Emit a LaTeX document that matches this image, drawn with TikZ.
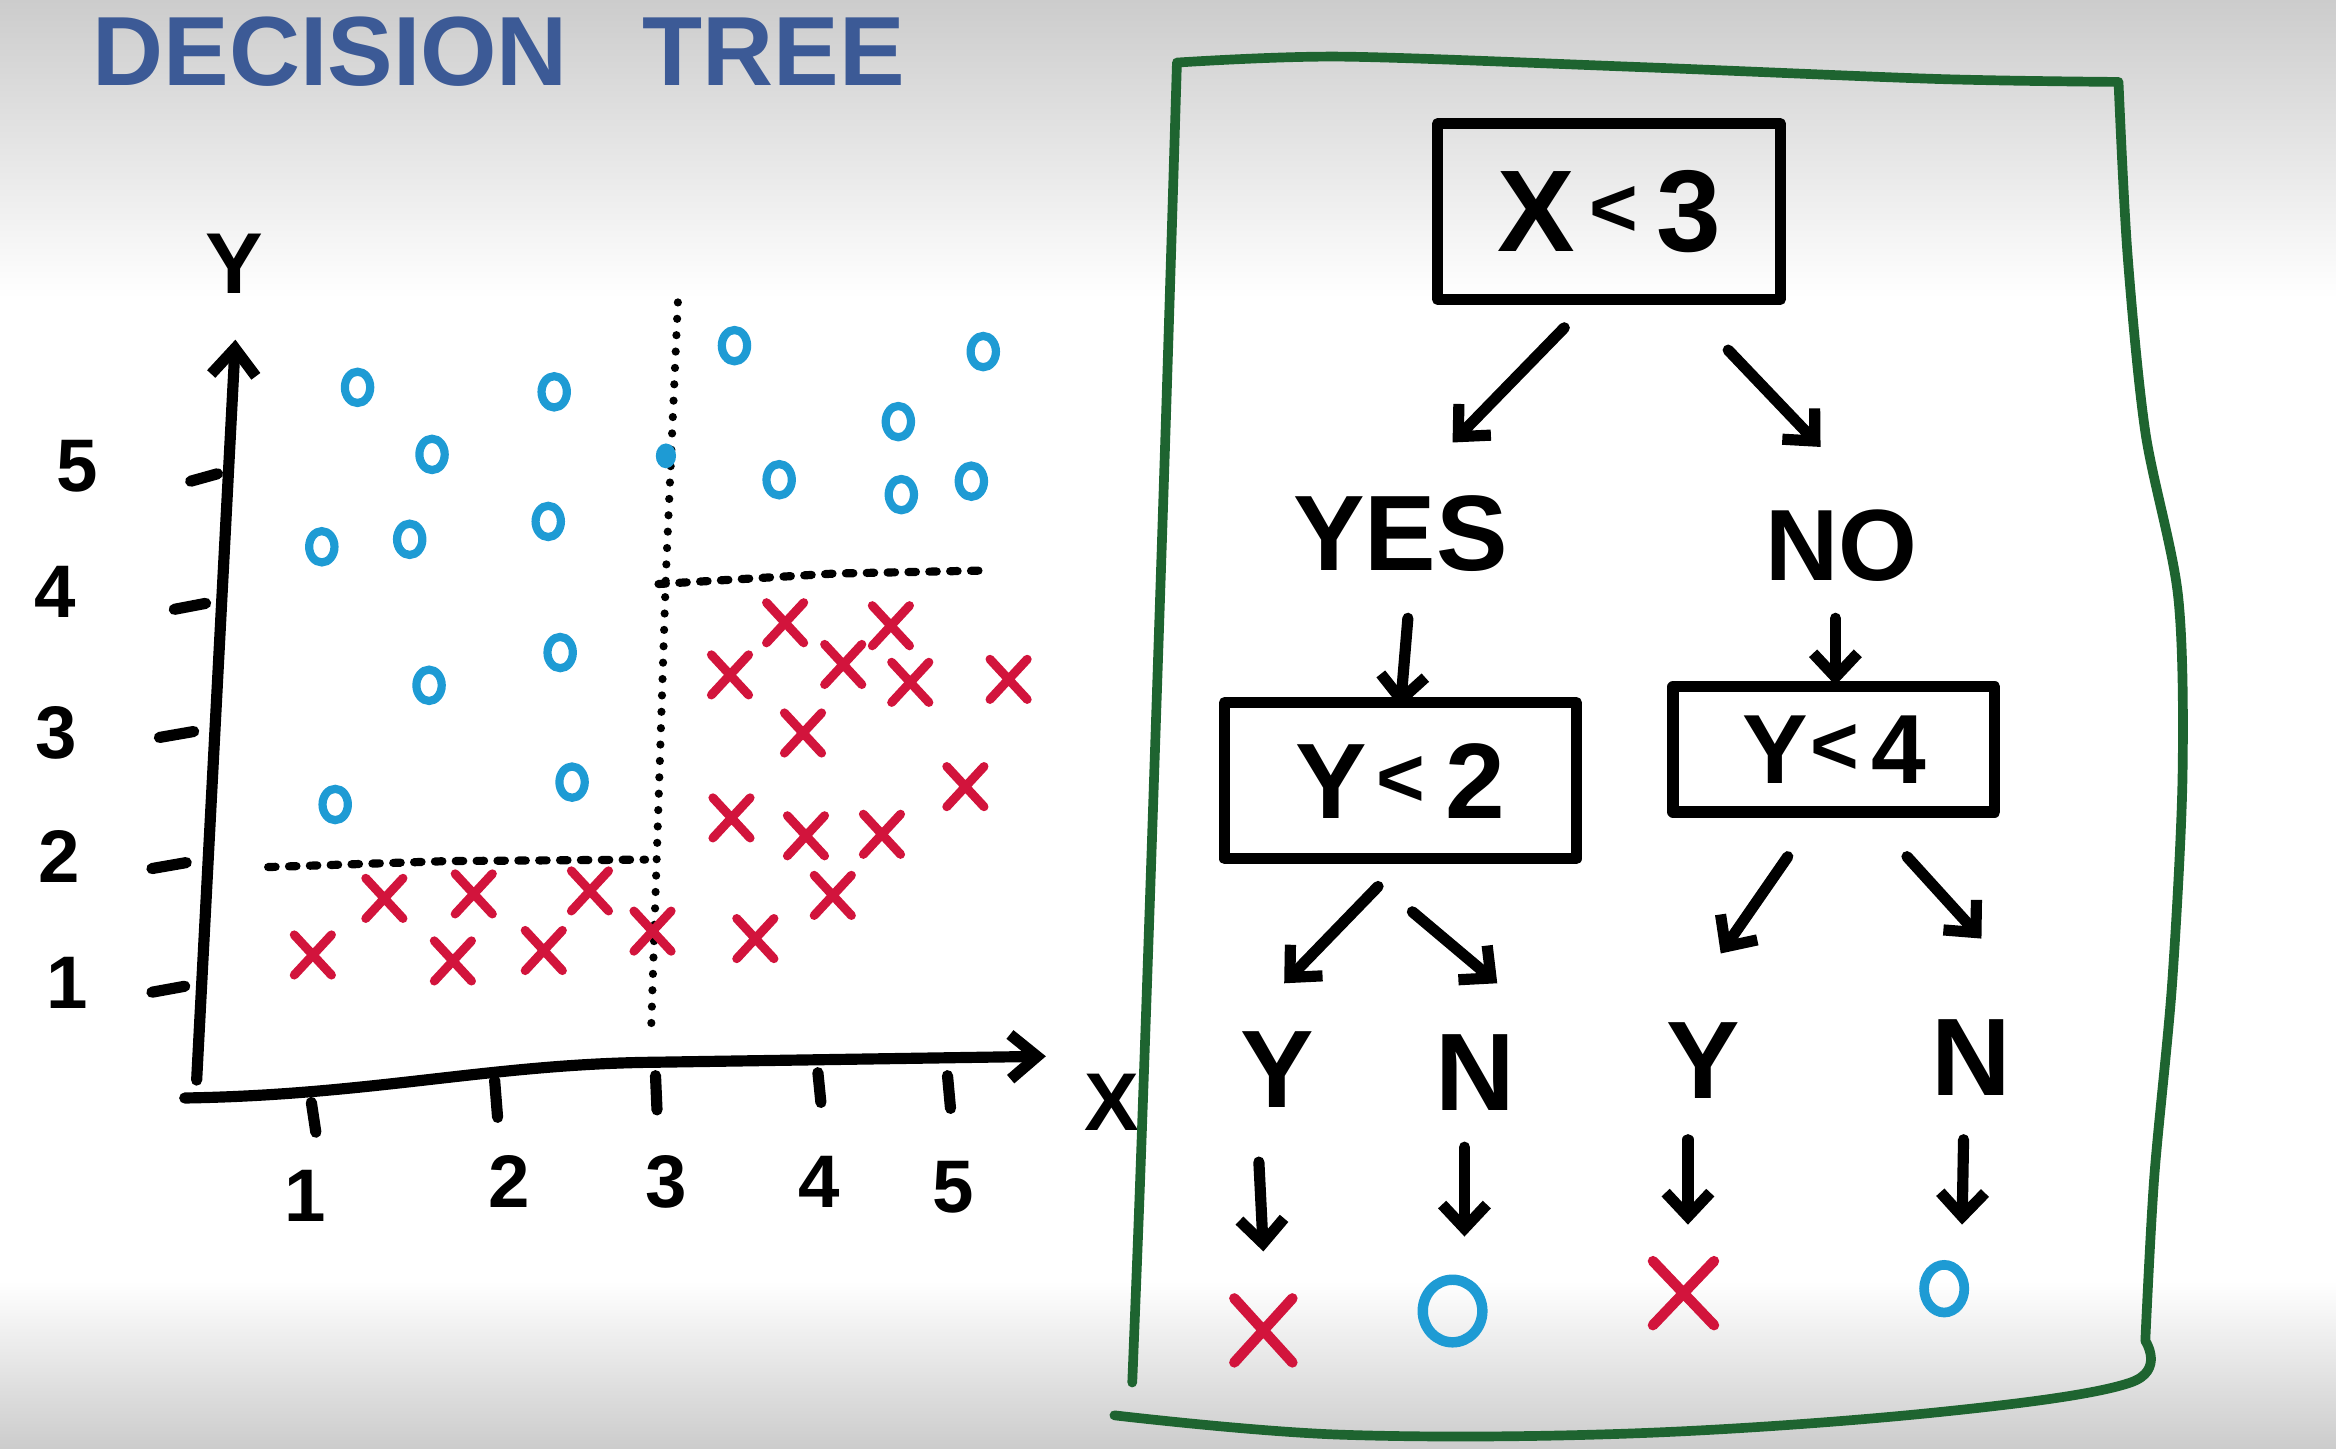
\documentclass[tikz,border=0pt]{standalone}
\usepackage{fontspec}
\setmainfont{Liberation Sans}
\usetikzlibrary{arrows.meta,shapes.geometric,shapes.misc,calc}
\definecolor{ttl}{HTML}{3C5A96}
\definecolor{oblue}{HTML}{1E9BD4}
\definecolor{xred}{HTML}{D2143C}
\definecolor{pgreen}{HTML}{1E6430}
\newcommand\smlt[1]{\raisebox{#1}{\fontsize{56}{56}\selectfont<}}
\begin{document}
\begin{tikzpicture}[x=1pt,y=-1pt,
  ink/.style={line width=7.5pt,line cap=round,line join=round},
  arr/.style={ink,-{Straight Barb[length=16pt,width=30pt]}},
  om/.style={ellipse,draw=oblue,line width=5.5pt,minimum width=17pt,minimum height=21pt,inner sep=0pt},
  xm/.style={cross out,draw=xred,line width=6pt,line cap=round,minimum width=19pt,minimum height=21pt,inner sep=0pt},
  txt/.style={inner sep=0pt,font=\bfseries},
  box/.style={draw,line width=7.5pt,line join=round,inner sep=0pt},
  dotline/.style={line width=5.5pt,line cap=round,dash pattern=on 0pt off 11pt},
  dashline/.style={line width=5.5pt,line cap=round,dash pattern=on 5pt off 9pt},
  panel/.style={draw=pgreen,line width=6.5pt,line cap=round,line join=round}]
% background
\useasboundingbox (0,0) rectangle (1568,972);
\fill[white] (0,0) rectangle (1568,972);
\shade[top color=black!20,bottom color=white] (0,0) rectangle (1568,200);
\shade[top color=white,bottom color=black!20] (0,860) rectangle (1568,972);
% title
\node[txt,anchor=west,text=ttl,font=\fontsize{66}{66}\selectfont\bfseries] (title) at (62,35) {DECISION\hspace{50pt}TREE};
% axes
\draw[ink,-{Straight Barb[length=18pt,width=30pt]}] (132,725) -- (158,228);
\draw[ink,-{Straight Barb[length=18pt,width=30pt]}] (124,737) .. controls (250,735) and (330,714) .. (440,713) -- (702,709);
\draw[ink] (128,323)--(146,318) (117,409)--(138,405) (107,495)--(130,491) (102,583)--(125,579) (102,666)--(124,662)
  (209,740)--(212,760) (332,725)--(334,750) (440,722)--(441,745) (549,720)--(551,740) (636,722)--(638,744);
\node[txt,font=\fontsize{58}{58}\selectfont\bfseries] (ylab) at (157,177) {Y};
\node[txt,font=\fontsize{55}{55}\selectfont\bfseries] (xlab) at (746,740) {X};
\foreach \t/\p in {5/{(52,313)},4/{(37,397)},3/{(38,492)},2/{(40,575)},1/{(45,660)}}
  \node[txt,font=\fontsize{50}{50}\selectfont\bfseries] (ty\t) at \p {\t};
\foreach \t/\p in {1/{(205,803)},2/{(342,793)},3/{(447,793)},4/{(550,793)},5/{(640,797)}}
  \node[txt,font=\fontsize{50}{50}\selectfont\bfseries] (tx\t) at \p {\t};
% split lines
\draw[dotline] (455,203) -- (447,385) -- (437,693);
\draw[dashline] (442,392) -- (560,385) -- (658,383);
\draw[dashline] (180,582) -- (300,578) -- (433,577);
% data points
\foreach \p [count=\i] in {(240,260),(372,263),(290,305),(216,367),(275,362),(368,350),(288,460),(376,438),(225,540),(384,525),(493,232),(660,236),(603,283),(523,322),(605,332),(652,323)}
  \node[om] (o\i) at \p {};
\node[om,fill=oblue,minimum width=8pt,minimum height=11pt] (o17) at (447,306) {};
\foreach \p [count=\i] in {(527,418),(598,420),(490,453),(566,446),(611,458),(677,456),(539,492),(648,528),(491,549),(541,561),(592,560),(559,601),(507,630),(258,603),(318,600),(396,598),(210,641),(304,645),(365,638),(438,625)}
  \node[xm] (x\i) at \p {};
% tree panel
\draw[panel] plot[smooth,tension=0.5] coordinates {(760,928) (765,800) (772,600) (782,300) (790,42)}
  -- plot[smooth,tension=0.5] coordinates {(790,42) (900,38) (1100,45) (1300,53) (1422,55)}
  -- plot[smooth,tension=0.5] coordinates {(1422,55) (1428,170) (1440,290) (1462,400) (1465,520) (1458,660) (1446,790) (1440,900)}
  -- plot[smooth,tension=0.6] coordinates {(1440,900) (1430,928) (1300,948) (1100,962) (900,963) (748,950)};
% tree nodes
\node[box,minimum width=230pt,minimum height=118pt,font=\fontsize{78}{78}\selectfont\bfseries] (x3) at (1080,142) {X\hspace{10pt}\smlt{10pt}\hspace{12pt}3};
\node[txt,font=\fontsize{72}{72}\selectfont\bfseries] (yes) at (940,358) {YES};
\node[txt,font=\fontsize{68}{68}\selectfont\bfseries] (no) at (1236,366) {NO};
\node[box,minimum width=236pt,minimum height=105pt,font=\fontsize{72}{72}\selectfont\bfseries] (y2) at (940,524) {Y\hspace{6pt}\smlt{8pt}\hspace{14pt}2};
\node[box,minimum width=216pt,minimum height=84pt,font=\fontsize{66}{66}\selectfont\bfseries] (y4) at (1231,503) {Y\hspace{2pt}\smlt{6pt}\hspace{8pt}4};
\node[txt,font=\fontsize{74}{74}\selectfont\bfseries] (l1) at (857,718) {Y};
\node[txt,font=\fontsize{74}{74}\selectfont\bfseries] (l2) at (990,720) {N};
\node[txt,font=\fontsize{74}{74}\selectfont\bfseries] (l3) at (1143,712) {Y};
\node[txt,font=\fontsize{74}{74}\selectfont\bfseries] (l4) at (1323,710) {N};
\node[xm,line width=7pt,minimum width=32pt,minimum height=36pt] (r1) at (848,893) {};
\node[om,line width=7pt,minimum width=40pt,minimum height=42pt] (r2) at (975,880) {};
\node[xm,line width=7pt,minimum width=34pt,minimum height=36pt] (r3) at (1130,868) {};
\node[om,line width=6.5pt,minimum width=27pt,minimum height=32pt] (r4) at (1305,865) {};
% tree arrows
\draw[arr] ($(x3.center)+(-30,78)$) -- ($(yes.center)+(35,-61)$);
\draw[arr] ($(x3.center)+(80,93)$) -- ($(no.center)+(-14,-66)$);
\draw[arr] ($(yes.center)+(5,57)$) -- ($(y2.center)+(0,-49)$);
\draw[arr] ($(no.center)+(-4,49)$) -- ($(y4.center)+(1,-43)$);
\draw[arr] ($(y2.center)+(-15,71)$) -- ($(l1.center)+(5,-58)$);
\draw[arr] ($(y2.center)+(8,88)$) -- ($(l2.center)+(15,-60)$);
\draw[arr] ($(y4.center)+(-31,72)$) -- ($(l3.center)+(12,-72)$);
\draw[arr] ($(y4.center)+(49,72)$) -- ($(l4.center)+(7,-80)$);
\draw[arr] ($(l1.center)+(-12,62)$) -- ($(r1.center)+(0,-53)$);
\draw[arr] ($(l2.center)+(-7,50)$) -- ($(r2.center)+(8,-50)$);
\draw[arr] ($(l3.center)+(-10,53)$) -- ($(r3.center)+(3,-46)$);
\draw[arr] ($(l4.center)+(-5,55)$) -- ($(r4.center)+(12,-43)$);
\end{tikzpicture}
\end{document}
